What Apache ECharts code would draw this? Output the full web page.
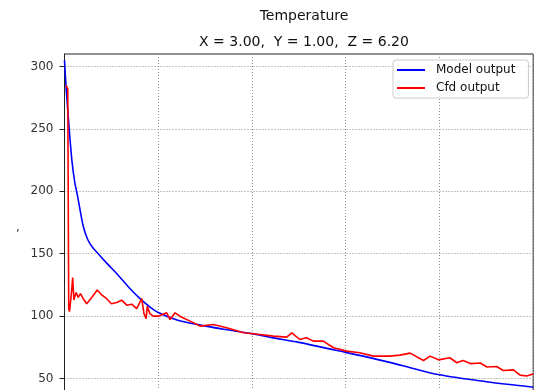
<!DOCTYPE html>
<html>
<head>
<meta charset="utf-8">
<script src="https://cdn.jsdelivr.net/npm/echarts@6/dist/echarts.min.js"></script>
<style>
html,body{margin:0;padding:0;background:#fff;}
#chart{width:539px;height:390px;}
</style>
</head>
<body>
<div id="chart"></div>
<script>
const chartTitle = 'Temperature';
const chartSubtitle = 'X = 3.00,  Y = 1.00,  Z = 6.20';
const seriesNames = ['Model output', 'Cfd output'];
const yTicks = [0, 50, 100, 150, 200, 250, 300];

// Model output: [x, temperature]
const modelX = [0, 2, 5, 8, 11, 14, 20, 25, 30, 36, 45, 57, 70, 80, 91, 100, 120, 145, 170, 200, 220, 250, 300, 330, 360, 400, 450, 490, 500];
const modelY = [305, 280, 250, 224, 207, 196, 172, 161, 155, 150, 142.5, 133, 122, 114.5, 107.5, 103, 97, 92.8, 89.5, 86, 83, 79, 71, 66, 60.5, 53, 47.5, 44, 43];

// Cfd output: [x, temperature]
const cfdX = [1.5, 3.5, 4.5, 5.3, 6.5, 7.7, 8.7, 10, 12.3, 14.7, 17, 20, 23.7, 29, 35, 39.7, 45, 50, 55.7, 61, 66.4, 71.7, 77, 82.4, 84.8, 87, 88.4, 91, 94.8, 100, 109, 112.6, 118, 123, 134, 144.6, 158.8, 173, 191, 208.6, 222.8, 237, 242.5, 251, 258, 265.5, 276, 287, 301, 315, 329.6, 347, 358, 368.7, 383, 390, 399, 411, 418.6, 425, 433, 443.6, 450.6, 461, 468, 479, 486, 493, 500];
const cfdY = [285, 282, 106, 103.6, 112, 121, 131, 113, 119, 115, 118, 114, 110, 115, 121, 117, 114, 110, 111, 112.8, 108.8, 109.6, 106, 114, 102, 98, 108, 102, 100, 100, 102.7, 97.3, 102.7, 100, 96, 92, 93.3, 90.7, 86.7, 85.3, 84, 83.2, 86.7, 81.3, 82.7, 80, 80, 74.7, 72, 70.7, 68, 68, 68.8, 70.4, 64.5, 68, 65, 66.7, 62.7, 64.5, 62, 62.5, 59.3, 59.7, 56.5, 57, 52.8, 52, 53.6];

const modelData = modelX.map((x, i) => [x, modelY[i]]);
const cfdData = cfdX.map((x, i) => [x, cfdY[i]]);

const chart = echarts.init(document.getElementById('chart'), null, {renderer: 'canvas'});
const font = 'DejaVu Sans';
chart.setOption({
  animation: false,
  backgroundColor: '#fff',
  title: [
    {text: chartTitle, left: 299, top: 4, textAlign: 'center',
     textStyle: {fontFamily: font, fontSize: 14, fontWeight: 'normal', color: '#111'}},
    {text: chartSubtitle, left: 299, top: 30, textAlign: 'center',
     textStyle: {fontFamily: font, fontSize: 14, fontWeight: 'normal', color: '#111'}}
  ],
  legend: {
    orient: 'vertical',
    left: 393, top: 60,
    padding: [4, 13, 4, 4],
    itemWidth: 28, itemHeight: 14, itemGap: 6,
    backgroundColor: 'rgba(255,255,255,0.85)',
    borderColor: '#cccccc', borderWidth: 1, borderRadius: 3,
    textStyle: {fontFamily: font, fontSize: 12, color: '#111', padding: [0, 0, 0, 6]},
    data: seriesNames.map(n => ({name: n, icon: 'path://M0,0 L28,0 L28,2 L0,2 Z'}))
  },
  grid: {left: 64.5, right: 5.8, top: 54, bottom: -51, show: true, borderColor: '#222', borderWidth: 1,
         containLabel: false, outerBoundsMode: 'none'},
  xAxis: {
    type: 'value', min: 0, max: 500, interval: 100,
    axisLine: {show: true, lineStyle: {color: '#222'}},
    axisTick: {show: true, length: 5, lineStyle: {color: '#222'}},
    axisLabel: {show: true, fontFamily: font, fontSize: 12, color: '#333'},
    splitLine: {show: true, lineStyle: {color: '#8a8a8a', type: [1, 2], width: 1}}
  },
  yAxis: {
    type: 'value', min: 0, max: 310, interval: 50,
    axisLine: {show: true, lineStyle: {color: '#222'}},
    axisTick: {show: true, length: 5, lineStyle: {color: '#222'}},
    axisLabel: {fontFamily: font, fontSize: 12, color: '#333', margin: 11, showMaxLabel: false,
      formatter: v => yTicks.indexOf(v) >= 0 ? String(v) : ''},
    splitLine: {show: true, lineStyle: {color: '#8a8a8a', type: [1, 2], width: 1}}
  },
  graphic: [
    {type: 'text', left: 16, top: 222, style: {text: ',', font: '12px DejaVu Sans', fill: '#444'}}
  ],
  series: [
    {name: seriesNames[0], type: 'line', data: modelData, symbol: 'none', smooth: 0.3,
     lineStyle: {color: '#0000ff', width: 1.6}, itemStyle: {color: '#0000ff'}, z: 3},
    {name: seriesNames[1], type: 'line', data: cfdData, symbol: 'none',
     lineStyle: {color: '#ff0000', width: 1.6}, itemStyle: {color: '#ff0000'}, z: 4}
  ]
});
</script>
</body>
</html>
